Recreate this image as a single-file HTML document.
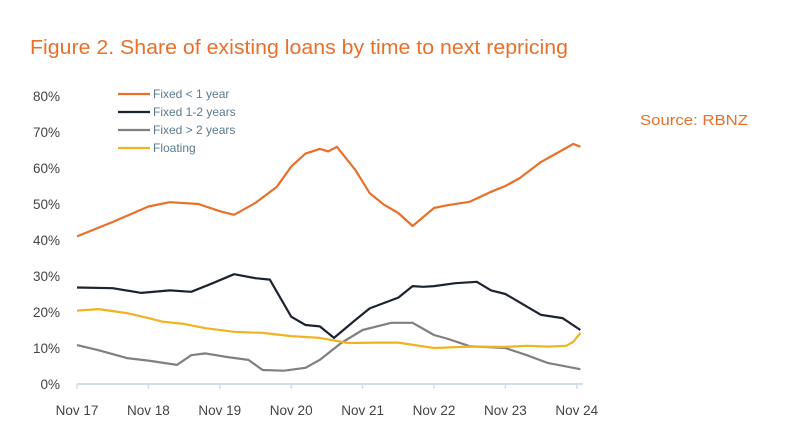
<!DOCTYPE html>
<html><head><meta charset="utf-8"><style>
body{margin:0;background:#fff;width:800px;height:441px;overflow:hidden;font-family:"Liberation Sans",sans-serif}
svg{position:absolute;left:0;top:0}
</style></head><body>
<svg width="800" height="441">
<text x="30" y="54" font-size="20" fill="#e8702a" textLength="538" lengthAdjust="spacingAndGlyphs">Figure 2. Share of existing loans by time to next repricing</text>
<text x="640" y="125" font-size="15" fill="#e8702a" textLength="108" lengthAdjust="spacingAndGlyphs">Source: RBNZ</text>
<g id="axes"></g><g id="series"></g><g id="legend"></g>
</svg>
<script>
const yTicks=[0,10,20,30,40,50,60,70,80];
const xLabels=["Nov 17","Nov 18","Nov 19","Nov 20","Nov 21","Nov 22","Nov 23","Nov 24"];
const seriesNames=["Fixed < 1 year","Fixed 1-2 years","Fixed > 2 years","Floating"];
const seriesColors=["#e8702a","#1c2430","#808080","#f0b323"];
const t1=[0,0.5,1.0,1.3,1.7,2.0,2.2,2.5,2.8,3.0,3.2,3.4,3.52,3.64,3.9,4.1,4.3,4.5,4.7,5.0,5.2,5.5,5.8,6.0,6.2,6.5,6.8,6.95,7.05];
const v1=[41,45,49.3,50.5,50,48,47,50.3,54.8,60.4,64,65.3,64.6,65.9,59.4,53,49.8,47.5,43.9,48.9,49.7,50.6,53.4,55,57.2,61.7,65,66.7,65.9];
const t2=[0,0.5,0.9,1.3,1.6,1.9,2.2,2.5,2.7,3.0,3.2,3.4,3.6,3.9,4.1,4.3,4.5,4.7,4.85,5.0,5.3,5.6,5.8,6.0,6.3,6.5,6.8,7.05];
const v2=[26.8,26.6,25.3,26,25.6,28,30.5,29.4,29,18.7,16.4,16,12.8,17.8,21,22.5,24,27.2,27,27.2,28,28.4,26,25,21.5,19.2,18.3,15];
const t3=[0,0.3,0.7,1.0,1.4,1.6,1.8,2.1,2.4,2.6,2.9,3.2,3.4,3.7,4.0,4.4,4.7,5.0,5.2,5.5,6.0,6.3,6.6,7.05];
const v3=[10.8,9.4,7.2,6.5,5.3,8,8.5,7.5,6.7,3.9,3.7,4.5,6.7,11.4,15,17,17,13.6,12.5,10.5,10,8,5.8,4.1];
const t4=[0,0.3,0.7,1.0,1.2,1.5,1.8,2.2,2.6,3.0,3.4,3.8,4.2,4.5,5.0,5.5,6.0,6.3,6.6,6.85,6.95,7.05];
const v4=[20.4,20.8,19.7,18.3,17.3,16.7,15.5,14.5,14.2,13.3,12.8,11.4,11.5,11.5,10,10.4,10.3,10.6,10.4,10.6,11.7,14.2];
const X=t=>77+t*71.4, Y=v=>384-3.6*v;
const NS="http://www.w3.org/2000/svg";
function mk(tag,attrs,parent){const e=document.createElementNS(NS,tag);for(const k in attrs)e.setAttribute(k,attrs[k]);parent.appendChild(e);return e;}
const axes=document.getElementById('axes');
yTicks.forEach(v=>{const t=mk('text',{x:60,y:Y(v)+5,'text-anchor':'end','font-size':13.5,fill:'#444'},axes);t.textContent=v+'%';

});
const ax=mk('line',{x1:77,x2:583,y1:384,y2:384,stroke:'#d3dde8','stroke-width':2},axes);


xLabels.forEach((l,i)=>{const tk=mk('line',{x1:X(i),x2:X(i),y1:384,y2:389,stroke:'#d3dde8','stroke-width':1.5},axes);


const t=mk('text',{x:X(i),y:415,'text-anchor':'middle','font-size':13.5,fill:'#444'},axes);t.textContent=l;

});
const sg=document.getElementById('series');
[[t1,v1],[t2,v2],[t3,v3],[t4,v4]].forEach((s,i)=>{const d=s[0].map((t,j)=>(j?'L':'M')+X(t).toFixed(1)+','+Y(s[1][j]).toFixed(1)).join('');
const p=mk('path',{d:d,fill:'none',stroke:seriesColors[i],'stroke-width':2.2,'stroke-linejoin':'round'},sg);

});
const lg=document.getElementById('legend');
seriesNames.forEach((n,i)=>{const y=94+i*18;
const l=mk('line',{x1:118,x2:150,y1:y,y2:y,stroke:seriesColors[i],'stroke-width':2.2},lg);


const t=mk('text',{x:153,y:y+4,'font-size':12,fill:'#5a7a8f'},lg);t.textContent=n;

});
</script>
</body></html>
